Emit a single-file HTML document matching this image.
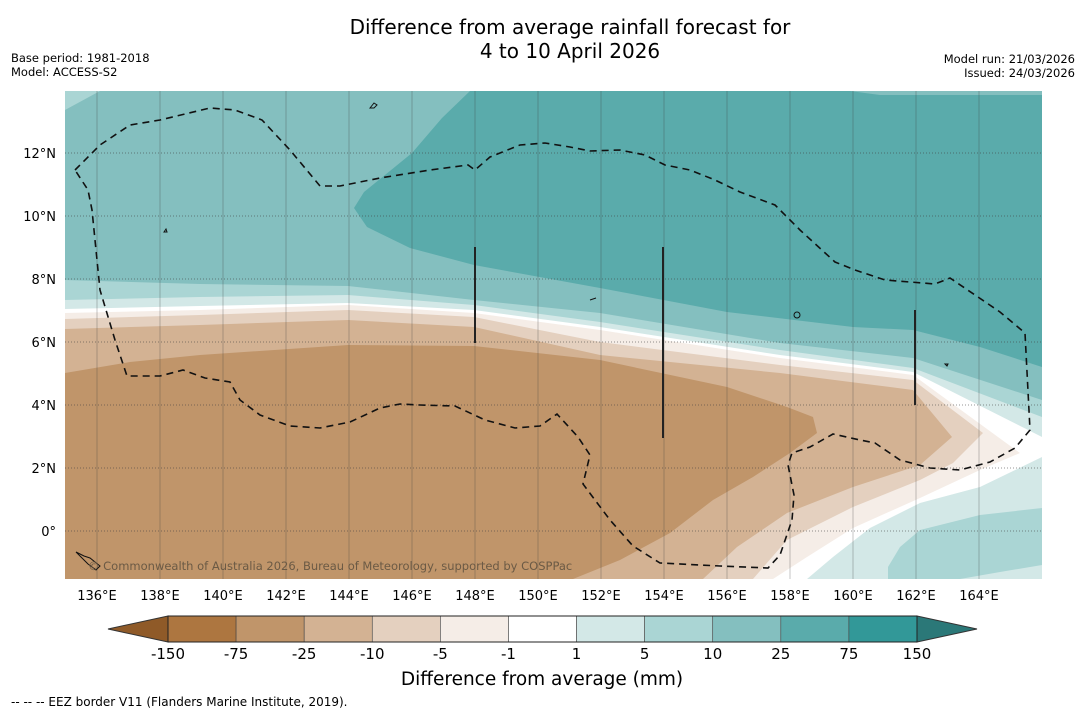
<!DOCTYPE html>
<html><head><meta charset="utf-8">
<style>
body{margin:0;background:#fff;font-family:"DejaVu Sans","Liberation Sans",sans-serif;}
#root{position:relative;width:1085px;height:713px;overflow:hidden;background:#fff;}
.t{position:absolute;white-space:nowrap;color:#000;}
</style></head>
<body>
<div id="root">
<div class="t" style="left:0;width:1140px;text-align:center;top:15px;font-size:20px;line-height:24px;">Difference from average rainfall forecast for<br>4 to 10 April 2026</div>
<div class="t" style="left:11px;top:51px;font-size:11.5px;line-height:14px;">Base period: 1981-2018<br>Model: ACCESS-S2</div>
<div class="t" style="right:10px;top:52px;font-size:11.5px;line-height:14px;text-align:right;">Model run: 21/03/2026<br>Issued: 24/03/2026</div>

<svg id="map" width="1085" height="713" style="position:absolute;left:0;top:0" xmlns="http://www.w3.org/2000/svg" font-family="DejaVu Sans, sans-serif">
<defs><clipPath id="mc"><rect x="65" y="91" width="977" height="488"/></clipPath></defs>
<g clip-path="url(#mc)">
<rect x="65" y="91" width="977" height="488" fill="#84bfbf"/>
<polygon fill="#aad5d4" points="65,91 100,91 65,110"/>
<polygon fill="#5aabab" points="470,91 850,91 880,95 1042,95 1042,367 980,347 913,330 853,327 727,312 600,288 474,265 410,248 367,227 354,208 364,192 412,153 442,118"/>
<polygon fill="#aad5d4" points="65,280 200,284 348,286 474,300 600,313 780,343 913,358 1042,400 1042,579 65,579"/>
<polygon fill="#d3e8e7" points="65,300 200,297 348,295 474,305 600,322 780,350 913,368 1042,417 1042,579 65,579"/>
<polygon fill="#ffffff" points="65,309 200,306 348,303 474,310 600,327 780,355 913,372 1042,437 1042,457 980,487 920,503 870,528 833,557 807,579 65,579"/>
<polygon fill="#f5ede7" points="65,313 200,310 348,305 474,313 600,330 780,358 913,375 1020,453 980,470 920,498 853,528 807,557 773,579 65,579"/>
<polygon fill="#e4d0bf" points="65,319 200,315 348,310 474,317 600,342 780,365 913,380 983,433 953,463 920,480 853,507 787,540 753,579 65,579"/>
<polygon fill="#d3b293" points="65,329 200,325 348,320 474,327 600,355 780,373 913,390 952,437 920,465 853,487 787,513 737,547 703,579 65,579"/>
<polygon fill="#c0956a" points="65,373 130,362 200,355 348,345 474,346 600,360 727,387 787,407 813,417 817,433 790,453 753,477 713,500 670,533 620,560 573,579 65,579"/>
<polygon fill="#aad5d4" points="888,579 888,567 900,547 920,530 980,515 1042,508 1042,565 1000,572 960,579"/>
<g id="grid"></g>
<polyline fill="none" stroke="#111" stroke-width="1.6" stroke-dasharray="7,5" points="75,170 100,145 130,125 160,120 210,108 235,110 262,120 290,150 320,186 340,186 380,178 430,170 468,165 475,170 490,157 520,145 545,143 570,147 590,151 620,150 645,155 665,165 690,170 715,180 740,192 775,205 800,230 835,262 855,270 885,280 935,284 950,278 975,295 1000,312 1025,333 1030,430 1015,448 990,462 960,470 930,468 900,460 875,443 860,440 833,434 810,447 792,453 788,465 794,495 792,520 780,555 768,568 720,566 660,563 633,546 610,520 583,484 590,455 578,437 557,414 540,426 515,428 485,420 455,406 420,405 400,404 380,408 350,422 320,428 290,426 260,415 240,400 230,382 205,378 183,370 160,376 127,376 115,340 100,290 92,210 88,190 75,170"/>
<line x1="475" y1="247" x2="475" y2="343" stroke="#222" stroke-width="2"/>
<line x1="663" y1="247" x2="663" y2="438" stroke="#222" stroke-width="2"/>
<line x1="915" y1="310" x2="915" y2="405" stroke="#222" stroke-width="2"/>
<g fill="none" stroke="#111" stroke-width="1">
<path d="M370,108 l4,-5 l3,2 l-3,3 z"/><circle cx="797" cy="315" r="3"/><path d="M164,232 l2,-3 l1,3z"/>
<path d="M76,552 l8,4 l6,2 l10,8 l-4,4 l-8,-6z"/><path d="M590,300 l6,-2"/><path d="M945,364 l3,0 l-1,2z"/>
</g>
</g>
<text x="88" y="570" font-size="11.5" fill="#6b5a45">© Commonwealth of Australia 2026, Bureau of Meteorology, supported by COSPPac</text>
<g id="xt"></g>
<g id="yt"></g>
<g id="cb"></g>
<text x="542" y="685" text-anchor="middle" font-size="18.5">Difference from average (mm)</text>
<text x="11" y="706" font-size="12">--  --  -- EEZ border V11 (Flanders Marine Institute, 2019).</text>
</svg>
</div>
<script>
const lonTicks=[136,138,140,142,144,146,148,150,152,154,156,158,160,162,164];
const latTicks=[0,2,4,6,8,10,12];
const cbLabels=["-150","-75","-25","-10","-5","-1","1","5","10","25","75","150"];
const cbColors=["#ad7640","#c0956a","#d3b293","#e4d0bf","#f5ede7","#ffffff","#d3e8e7","#aad5d4","#84bfbf","#5aabab","#329898"];
const NS="http://www.w3.org/2000/svg";
function xs(lon){return 97+(lon-136)*31.5;}
function ys(lat){return 531-lat*31.5;}
function mk(tag,attrs,parent){const e=document.createElementNS(NS,tag);for(const k in attrs)e.setAttribute(k,attrs[k]);parent.appendChild(e);return e;}
const grid=document.getElementById('grid');
for(let i=0;i<lonTicks.length;i++){
  const l=mk('line',{x1:xs(lonTicks[i]),x2:xs(lonTicks[i]),y1:91,y2:579,stroke:'rgba(60,60,60,0.3)','stroke-width':1},grid);
  
  
}
for(let i=0;i<latTicks.length;i++){
  const l=mk('line',{x1:65,x2:1042,y1:ys(latTicks[i]),y2:ys(latTicks[i]),stroke:'rgba(60,60,60,0.55)','stroke-width':1,'stroke-dasharray':'1,2'},grid);
  
  
}
const xt=document.getElementById('xt');
for(let i=0;i<lonTicks.length;i++){
  const t=mk('text',{x:xs(lonTicks[i]),y:600,'text-anchor':'middle','font-size':13},xt);
  t.textContent=lonTicks[i]+'°E';
  
  
}
const yt=document.getElementById('yt');
for(let i=0;i<latTicks.length;i++){
  const t=mk('text',{x:56,y:ys(latTicks[i])+5,'text-anchor':'end','font-size':13},yt);
  t.textContent=latTicks[i]===0?'0°':latTicks[i]+'°N';
  
  
}
const cb=document.getElementById('cb');
const cx0=168,cx1=917,cy0=616,cy1=642,w=(cx1-cx0)/cbColors.length;
const lt=mk('polygon',{points:`${cx0},${cy0} ${cx0},${cy1} 108,${(cy0+cy1)/2}`,fill:'#8f5a28',stroke:'#333','stroke-width':1},cb);


const rt=mk('polygon',{points:`${cx1},${cy0} ${cx1},${cy1} 977,${(cy0+cy1)/2}`,fill:'#2b7878',stroke:'#333','stroke-width':1},cb);


for(let i=0;i<cbColors.length;i++){
  const r=mk('rect',{x:cx0+i*w,y:cy0,width:w,height:cy1-cy0,fill:cbColors[i],stroke:'#444','stroke-width':0.6},cb);
  
  
}
mk('rect',{x:cx0,y:cy0,width:cx1-cx0,height:cy1-cy0,fill:'none',stroke:'#222','stroke-width':1},cb);
for(let i=0;i<cbLabels.length;i++){
  const t=mk('text',{x:cx0+i*w,y:659,'text-anchor':'middle','font-size':15},cb);
  t.textContent=cbLabels[i];
  
  
}
</script>
</body></html>
